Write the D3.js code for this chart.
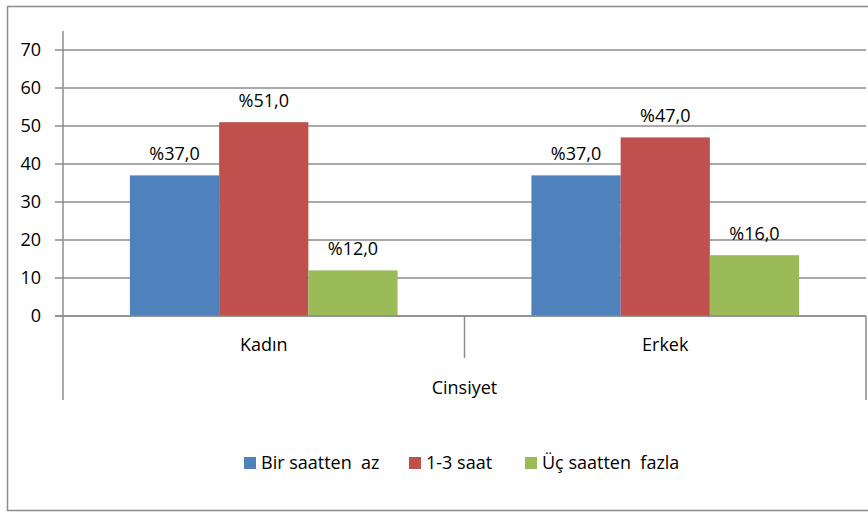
<!DOCTYPE html>
<html>
<head>
<meta charset="utf-8">
<script src="https://cdn.jsdelivr.net/npm/d3@7"></script>
<style>
  body { margin: 0; background: #fff; }
  text { font-family: "Open Sans", sans-serif; fill: #000; }
</style>
</head>
<body>
<div id="chart"></div>
<script>
var categories = ["Kadın", "Erkek"];
var seriesNames = ["Bir saatten  az", "1-3 saat", "Üç saatten  fazla"];
var seriesValues = [
  [37, 37],
  [51, 47],
  [12, 16]
];
var yTicks = [0, 10, 20, 30, 40, 50, 60, 70];
var axisTitle = "Cinsiyet";
var colors = ["#4F81BD", "#C0504D", "#9BBB59"];

var svgWidth = 868, svgHeight = 513;
var plot = { left: 63, right: 866, top: 50, bottom: 316 };

var svg = d3.select("#chart").append("svg")
  .attr("width", svgWidth)
  .attr("height", svgHeight);

// outer frame
svg.append("rect")
  .attr("x", 7.5).attr("y", 6.5)
  .attr("width", 870).attr("height", 504)
  .attr("fill", "none")
  .attr("stroke", "#8c8c8c")
  .attr("stroke-width", 1.5);

var y = d3.scaleLinear().domain([0, 70]).range([plot.bottom, plot.top]);
var x0 = d3.scaleBand().domain(categories).range([plot.left, plot.right]).paddingInner(0).paddingOuter(0);
var barW = x0.bandwidth() / 4.5;
var x1 = d3.scaleBand().domain(d3.range(seriesNames.length))
  .range([0.75 * barW, 3.75 * barW]);

// gridlines
svg.append("g").selectAll("line")
  .data(yTicks)
  .enter().append("line")
  .attr("x1", plot.left - 8).attr("x2", plot.right)
  .attr("y1", d => y(d)).attr("y2", d => y(d))
  .attr("stroke", "#8c8c8c")
  .attr("stroke-width", 1.5);

// y axis labels
svg.append("g").selectAll("text")
  .data(yTicks)
  .enter().append("text")
  .attr("x", 41).attr("y", d => y(d))
  .attr("dy", "0.36em")
  .attr("text-anchor", "end")
  .style("font-size", "18px")
  .text(d => d);

// axis line + category separators
svg.append("line")
  .attr("x1", plot.left).attr("x2", plot.left)
  .attr("y1", 31).attr("y2", 400)
  .attr("stroke", "#8c8c8c").attr("stroke-width", 1.5);
svg.append("line")
  .attr("x1", plot.right).attr("x2", plot.right)
  .attr("y1", plot.bottom).attr("y2", 400)
  .attr("stroke", "#8c8c8c").attr("stroke-width", 1.5);
svg.append("line")
  .attr("x1", x0(categories[1])).attr("x2", x0(categories[1]))
  .attr("y1", plot.bottom).attr("y2", 358)
  .attr("stroke", "#8c8c8c").attr("stroke-width", 1.5);

// bars
var groups = svg.append("g").selectAll("g")
  .data(seriesValues)
  .enter().append("g")
  .attr("fill", (d, i) => colors[i]);

groups.each(function(vals, si) {
  var g = d3.select(this);
  g.selectAll("rect")
    .data(vals)
    .enter().append("rect")
    .attr("x", (d, ci) => x0(categories[ci]) + x1(si))
    .attr("y", d => y(d))
    .attr("width", x1.bandwidth())
    .attr("height", d => y(0) - y(d));

  svg.append("g").selectAll("text")
    .data(vals)
    .enter().append("text")
    .attr("x", (d, ci) => x0(categories[ci]) + x1(si) + x1.bandwidth() / 2)
    .attr("y", d => y(d) - 15)
    .attr("text-anchor", "middle")
    .style("font-size", "18px")
    .text(d => "%" + d.toFixed(1).replace(".", ","));
});

// redraw zero line over bars
svg.append("line")
  .attr("x1", plot.left - 8).attr("x2", plot.right)
  .attr("y1", y(0)).attr("y2", y(0))
  .attr("stroke", "#8c8c8c").attr("stroke-width", 1.5);

// category labels
svg.append("g").selectAll("text")
  .data(categories)
  .enter().append("text")
  .attr("x", d => x0(d) + x0.bandwidth() / 2)
  .attr("y", 351)
  .attr("text-anchor", "middle")
  .style("font-size", "18px")
  .text(d => d);

svg.append("text")
  .attr("x", x0(categories[1]))
  .attr("y", 394)
  .attr("text-anchor", "middle")
  .style("font-size", "18px")
  .text(axisTitle);

// legend
var legendX = [244, 409, 525];
var legend = svg.append("g").selectAll("g")
  .data(seriesNames)
  .enter().append("g")
  .attr("transform", (d, i) => `translate(${legendX[i]}, 457)`);
legend.append("rect")
  .attr("width", 12).attr("height", 12)
  .attr("fill", (d, i) => colors[i]);
legend.append("text")
  .attr("x", 17).attr("y", 12)
  .style("font-size", "18px")
  .style("white-space", "pre")
  .text(d => d);
</script>
</body>
</html>
